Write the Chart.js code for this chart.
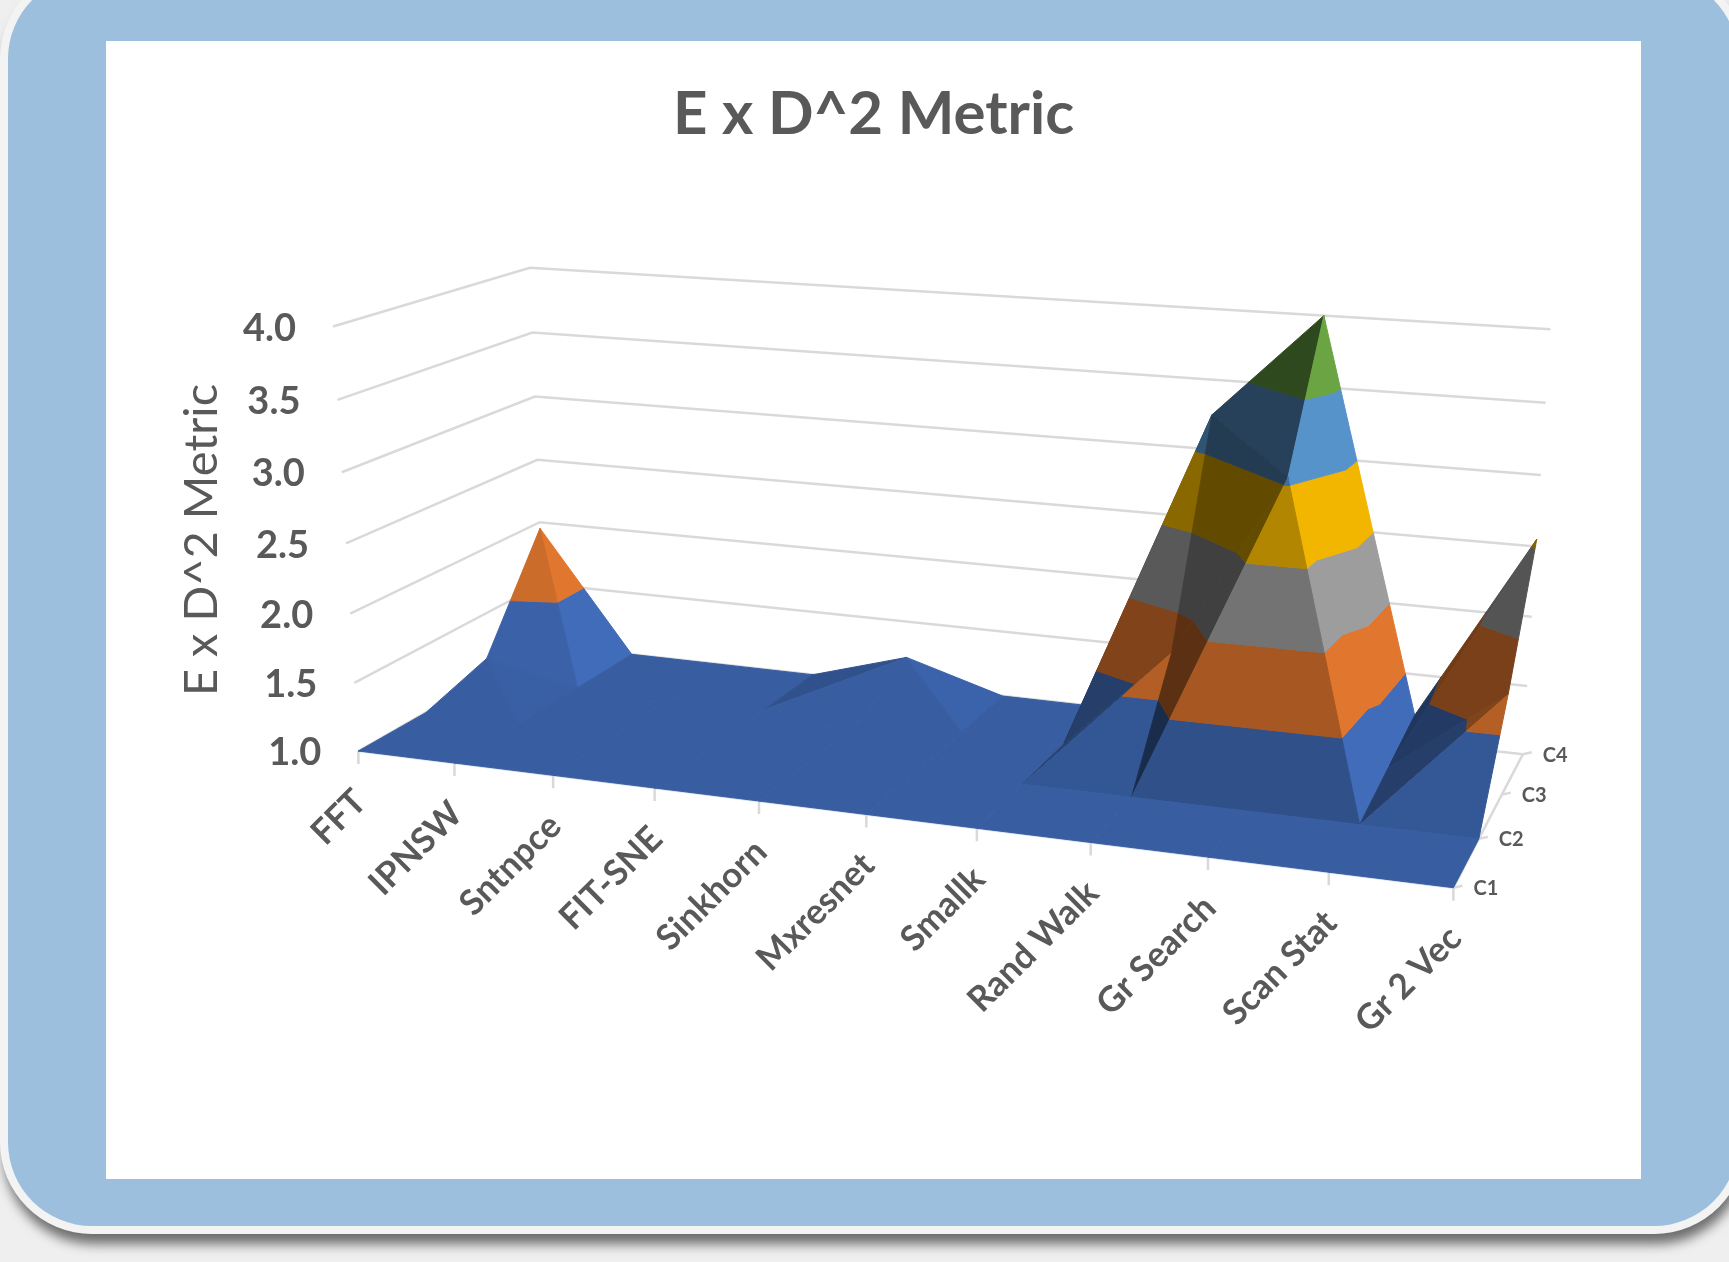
<!DOCTYPE html>
<html>
<head>
<meta charset="utf-8">
<title>E x D^2 Metric</title>
<script src="https://cdn.jsdelivr.net/npm/chart.js@4"></script>
<style>
html, body { margin: 0; padding: 0; width: 1729px; height: 1262px; overflow: hidden; background: #efefef; }
#frame { position: absolute; left: 8px; top: -25px; width: 1730px; height: 1251px; background: #9bbfdd; border-radius: 84px; box-shadow: 0 0 0 8px #f3f3f3, 2px 12px 12px 6px rgba(0,0,0,.55); }
#panel { position: absolute; left: 106px; top: 41px; width: 1535px; height: 1138px; background: #fff; }
</style>
</head>
<body>
<div id="frame"></div>
<div id="panel"><canvas id="chart" width="1535" height="1138"></canvas></div>
<script>
const categories = ['FFT', 'IPNSW', 'Sntnpce', 'FIT-SNE', 'Sinkhorn', 'Mxresnet', 'Smallk', 'Rand Walk', 'Gr Search', 'Scan Stat', 'Gr 2 Vec'];
const seriesNames = ['C1', 'C2', 'C3', 'C4'];
const c1 = [1, 1, 1, 1, 1, 1, 1, 1, 1, 1, 1];
const c2 = [1, 1, 1, 1, 1, 1, 1, 1, 1, 1, 1];
const c3 = [1.15, 1, 1, 1, 1, 1, 1, 1.75, 3.05, 1.1, 1.7];
const c4 = [1.95, 1, 1, 1, 1.22, 1, 1, 3.25, 4, 1.2, 2.55];
const valueTicks = [1, 1.5, 2, 2.5, 3, 3.5, 4];
const bandColors = ['#4472c4', '#ed7d31', '#a5a5a5', '#ffc000', '#5b9bd5', '#70ad47'];
const surface = [c1, c2, c3, c4];

// cells whose diagonal runs the other way from the "through the highest corner" rule
const flippedCells = ['7,2'];
// left-facing cells that come out darker in the original
const shadeTweaks = { '3,2': 0.93, '6,1': 0.88, '6,2': 0.88, '7,1': 0.68, '7,2': 0.68, '9,1': 0.8, '9,2': 0.8 };

// camera: floor corners on the page, plus where the verticals converge
const floorA = [358.4, 751], floorB = [1453.4, 887.7], floorC = [1522.8, 754.3], floorD = [548, 649.5];
const vanish = [917, 10112], riseK = -0.01446;
// the far left corner sits a little further out than a pure perspective gives
const backLeftNudge = [-3.5, -5];

const dx1 = floorB[0] - floorC[0], dx2 = floorD[0] - floorC[0], sx = floorA[0] - floorB[0] + floorC[0] - floorD[0];
const dy1 = floorB[1] - floorC[1], dy2 = floorD[1] - floorC[1], sy = floorA[1] - floorB[1] + floorC[1] - floorD[1];
const den = dx1 * dy2 - dx2 * dy1;
const hg = (sx * dy2 - dx2 * sy) / den, hh = (dx1 * sy - sx * dy1) / den;
const ha = floorB[0] - floorA[0] + hg * floorB[0], hb = floorD[0] - floorA[0] + hh * floorD[0];
const hd = floorB[1] - floorA[1] + hg * floorB[1], he = floorD[1] - floorA[1] + hh * floorD[1];

function project(i, j, v) {
    const u = i / (categories.length - 1), t = j / (seriesNames.length - 1), k = riseK * (v - 1);
    const w = hg * u + hh * t + 1 + k;
    return {
        x: (ha * u + hb * t + floorA[0] + k * vanish[0]) / w + (1 - u) * t * backLeftNudge[0],
        y: (hd * u + he * t + floorA[1] + k * vanish[1]) / w + (1 - u) * t * backLeftNudge[1]
    };
}

function shadeOf(tri, key) {
    const a = [tri[1][0] - tri[0][0], (tri[1][1] - tri[0][1]) * 1.2, tri[1][2] - tri[0][2]];
    const b = [tri[2][0] - tri[0][0], (tri[2][1] - tri[0][1]) * 1.2, tri[2][2] - tri[0][2]];
    let n = [a[1] * b[2] - a[2] * b[1], a[2] * b[0] - a[0] * b[2], a[0] * b[1] - a[1] * b[0]];
    if (n[2] < 0) n = n.map(c => -c);
    const len = Math.hypot(n[0], n[1], n[2]);
    n = n.map(c => c / len);
    // nearly flat faces blend into the floor
    if (n[2] > 0.98) return 0.82 + 0.12 * n[0];
    let f = Math.min(0.95, 0.76 + 0.25 * n[0] + 0.105 * n[1] + 0.06 * n[2]);
    if (n[0] < -0.01 && shadeTweaks[key]) f *= shadeTweaks[key];
    // front of the small peak on the left is lit more evenly
    if (key === '0,2' && n[0] < 0.5) f *= 1.1;
    return f;
}

function tint(hex, f) {
    const n = parseInt(hex.slice(1), 16);
    const ch = s => Math.min(255, Math.round(((n >> s) & 255) * f));
    return `rgb(${ch(16)},${ch(8)},${ch(0)})`;
}

// keep the part of a triangle between two values
function clipBand(poly, lo, hi) {
    const cut = (pts, keep, level) => {
        const out = [];
        pts.forEach((p, n) => {
            const q = pts[(n + 1) % pts.length];
            if (keep(p[2])) out.push(p);
            if (keep(p[2]) !== keep(q[2])) {
                const m = (level - p[2]) / (q[2] - p[2]);
                out.push([p[0] + (q[0] - p[0]) * m, p[1] + (q[1] - p[1]) * m, level]);
            }
        });
        return out;
    };
    let res = cut(poly, z => z >= lo, lo);
    if (res.length) res = cut(res, z => z <= hi, hi);
    return res;
}

const datasets = [];

function addLine(points, color, width) {
    datasets.push({ data: points, showLine: true, borderColor: color, borderWidth: width, pointRadius: 0, fill: false });
}

function surfaceDatasets() {
    const out = [];
    for (let j = seriesNames.length - 2; j >= 0; j--) {
        for (let i = 0; i < categories.length - 1; i++) {
            const p = (a, b) => [a, b, surface[b][a]];
            const corners = [p(i, j), p(i + 1, j), p(i + 1, j + 1), p(i, j + 1)];
            const top = corners.reduce((m, c, n) => (c[2] > corners[m][2] ? n : m), 0);
            let d = top % 2;
            if (flippedCells.includes(i + ',' + j)) d = 1 - d;
            const tris = d === 0
                ? [[corners[0], corners[2], corners[3]], [corners[0], corners[1], corners[2]]]
                : [[corners[1], corners[2], corners[3]], [corners[0], corners[1], corners[3]]];
            tris.forEach(tri => {
                const f = shadeOf(tri, i + ',' + j);
                bandColors.forEach((color, b) => {
                    const poly = clipBand(tri, valueTicks[b], valueTicks[b + 1]);
                    if (poly.length < 3) return;
                    const c = tint(color, f);
                    const pts = poly.map(q => project(q[0], q[1], q[2]));
                    pts.push(pts[0]);
                    out.push({ data: pts, showLine: true, borderColor: c, backgroundColor: c, borderWidth: 1, pointRadius: 0, fill: 'shape' });
                });
            });
        }
    }
    return out;
}

// walls and axes go behind the surface
const lastCat = categories.length - 1, lastSer = seriesNames.length - 1;
valueTicks.forEach(v => {
    addLine([project(0, 0, v), project(0, lastSer, v), project(lastCat, lastSer, v)], '#d9d9d9', 2.5);
});
addLine([project(0, 0, 1), project(lastCat, 0, 1)], '#d5dfee', 2.5);
addLine([project(lastCat, 0, 1), project(lastCat, lastSer, 1)], '#d9d9d9', 2.5);
categories.forEach((c, i) => {
    const p = project(i, 0, 1);
    addLine([p, { x: p.x, y: p.y + 13 }], '#d9d9d9', 2.5);
});
seriesNames.forEach((s, j) => {
    const p = project(lastCat, j, 1);
    addLine([p, { x: p.x + 9, y: p.y - 2 }], '#d9d9d9', 2.5);
});
surfaceDatasets().forEach(d => datasets.push(d));

const textPlugin = {
    id: 'perspectiveText',
    afterDraw(chart) {
        const { ctx, scales: { x, y } } = chart;
        const at = p => [x.getPixelForValue(p.x), y.getPixelForValue(p.y)];
        ctx.save();
        ctx.fillStyle = '#595959';
        ctx.textBaseline = 'middle';

        ctx.textAlign = 'right';
        ctx.font = 'bold 38px Lato';
        valueTicks.forEach(v => {
            const [px, py] = at(project(0, 0, v));
            ctx.fillText(v.toFixed(1), px - 37, py + 2);
        });

        ctx.textAlign = 'left';
        ctx.font = 'bold 20px Lato';
        seriesNames.forEach((s, j) => {
            const [px, py] = at(project(lastCat, j, 1));
            ctx.fillText(s, px + 20, py + 1);
        });

        ctx.textAlign = 'right';
        ctx.font = 'bold 35px Lato';
        categories.forEach((c, i) => {
            const [px, py] = at(project(i, 0, 1));
            ctx.save();
            ctx.translate(px + 2, py + 45);
            ctx.rotate(-Math.PI / 4);
            ctx.fillText(c, 0, 0);
            ctx.restore();
        });

        ctx.textAlign = 'center';
        ctx.font = '47px Lato';
        ctx.translate(x.getPixelForValue(202), y.getPixelForValue(540));
        ctx.rotate(-Math.PI / 2);
        ctx.fillText('E x D^2 Metric', 0, 0);
        ctx.restore();
    }
};

new Chart(document.getElementById('chart'), {
    type: 'scatter',
    data: { datasets: datasets.reverse() },
    plugins: [textPlugin],
    options: {
        responsive: false,
        animation: false,
        layout: { padding: 0 },
        plugins: {
            legend: { display: false },
            tooltip: { enabled: false },
            title: {
                display: true,
                text: 'E x D^2 Metric',
                color: '#595959',
                font: { family: 'Lato', size: 60, weight: 'bold', lineHeight: 1.2 },
                padding: { top: 38, bottom: 30 }
            }
        },
        scales: {
            x: { type: 'linear', display: false, min: 106, max: 1641 },
            y: { type: 'linear', display: false, reverse: true, min: 181, max: 1179 }
        }
    }
});
</script>
</body>
</html>
